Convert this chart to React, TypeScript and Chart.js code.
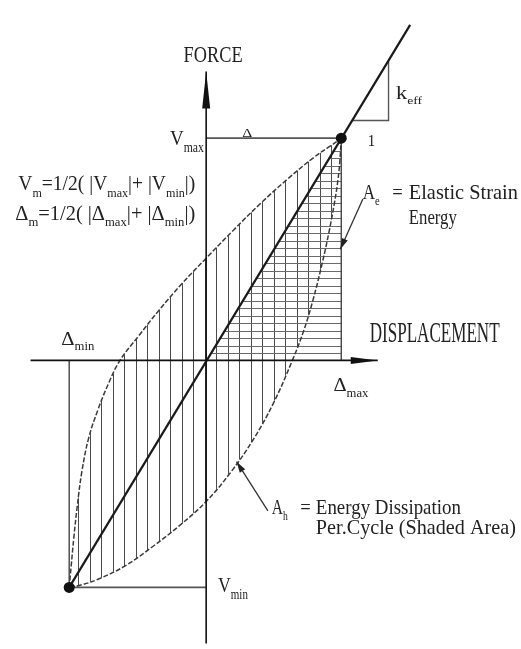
import React, { useEffect, useRef } from "react";
import { Chart, registerables } from "chart.js";

Chart.register(...registerables);

// Loading branch of the hysteresis loop (from the minimum point up to the maximum point)
const UP_X = [-1.014, -1.0, -0.98, -0.955, -0.92, -0.87, -0.8, -0.72, -0.638, -0.5, -0.35, -0.18, 0, 0.2, 0.4, 0.6, 0.8, 0.92, 1];
const UP_Y = [-1.022, -0.93, -0.8, -0.66, -0.5, -0.35, -0.22, -0.1, 0, 0.11, 0.225, 0.345, 0.46, 0.585, 0.705, 0.815, 0.915, 0.965, 1];

// Unloading branch (from the maximum point back down to the minimum point)
const LO_X = [1, 0.99, 0.975, 0.95, 0.91, 0.86, 0.79, 0.72, 0.638, 0.5, 0.35, 0.18, 0, -0.2, -0.4, -0.6, -0.8, -0.92, -1.014];
const LO_Y = [1, 0.9, 0.81, 0.71, 0.58, 0.44, 0.27, 0.13, 0, -0.19, -0.355, -0.505, -0.635, -0.745, -0.84, -0.925, -0.985, -1.01, -1.022];

// Peak points: [Δmax, Δmin] and [Vmax, Vmin]
const PEAK_D = [1, -1.014];
const PEAK_V = [1, -1.022];

// Effective-stiffness line end points
const DIAG_X = [-1.014, 1.51];
const DIAG_Y = [-1.022, 1.51];

// k_eff slope triangle
const KEFF_X = [1.08, 1.35, 1.35];
const KEFF_Y = [1.08, 1.08, 1.35];

// Axis extents
const AXIS_X = [-1.3, 1.27];
const AXIS_Y = [-1.28, 1.3];

const FONT = '"Liberation Serif", "DejaVu Serif", serif';
const INK = "#222";

type Seg = { t: string; sub?: boolean };
type Label = { x: number; y: number; segs: Seg[]; size: number; w?: number };

const LABELS: Label[] = [
  { x: -0.167, y: 1.341, segs: [{ t: "FORCE" }], size: 24, w: 59 },
  { x: -0.268, y: 0.969, segs: [{ t: "V" }, { t: "max", sub: true }], size: 22, w: 34 },
  {
    x: -1.391, y: 0.765, size: 21, w: 177,
    segs: [{ t: "V" }, { t: "m", sub: true }, { t: "=1/2( |V" }, { t: "max", sub: true }, { t: "|+ |V" }, { t: "min", sub: true }, { t: "|)" }],
  },
  {
    x: -1.413, y: 0.633, size: 21, w: 180,
    segs: [{ t: "Δ" }, { t: "m", sub: true }, { t: "=1/2( |Δ" }, { t: "max", sub: true }, { t: "|+ |Δ" }, { t: "min", sub: true }, { t: "|)" }],
  },
  { x: 1.159, y: 0.726, segs: [{ t: "A" }, { t: "e", sub: true }], size: 20, w: 17 },
  { x: 1.377, y: 0.726, segs: [{ t: "=" }], size: 20 },
  { x: 1.5, y: 0.726, segs: [{ t: "Elastic Strain" }], size: 21, w: 109 },
  { x: 1.5, y: 0.615, segs: [{ t: "Energy" }], size: 21, w: 48 },
  { x: 1.21, y: 0.084, segs: [{ t: "DISPLACEMENT" }], size: 29, w: 130 },
  { x: -1.072, y: 0.071, segs: [{ t: "Δ" }, { t: "min", sub: true }], size: 19, w: 33 },
  { x: 0.942, y: -0.137, segs: [{ t: "Δ" }, { t: "max", sub: true }], size: 19, w: 35 },
  { x: 0.486, y: -0.69, segs: [{ t: "A" }, { t: "h", sub: true }], size: 20, w: 16 },
  { x: 0.696, y: -0.69, segs: [{ t: "=" }], size: 20 },
  { x: 0.812, y: -0.69, segs: [{ t: "Energy Dissipation" }], size: 21, w: 145 },
  { x: 0.812, y: -0.783, segs: [{ t: "Per.Cycle (Shaded Area)" }], size: 21, w: 200 },
  { x: 0.087, y: -1.044, segs: [{ t: "V" }, { t: "min", sub: true }], size: 22, w: 30 },
  { x: 0.268, y: 1.004, segs: [{ t: "Δ" }], size: 13, w: 10 },
  { x: 1.196, y: 0.965, segs: [{ t: "1" }], size: 16 },
  { x: 1.406, y: 1.177, segs: [{ t: "k" }, { t: "eff", sub: true }], size: 18, w: 26 },
];

// Pointer arrows [fromX, fromY, toX, toY]
const POINTERS = [
  [1.16, 0.726, 0.993, 0.5],
  [0.457, -0.677, 0.225, -0.456],
];

const pts = (xs: number[], ys: number[]) => xs.map((x, i) => ({ x, y: ys[i] }));

function drawLabel(ctx: CanvasRenderingContext2D, px: number, py: number, lab: Label) {
  const subSize = lab.size * 0.62;
  let natural = 0;
  for (const s of lab.segs) {
    ctx.font = `${s.sub ? subSize : lab.size}px ${FONT}`;
    natural += ctx.measureText(s.t).width;
  }
  const sx = lab.w ? lab.w / natural : 0.93;
  ctx.save();
  ctx.translate(px, py);
  ctx.scale(sx, 1);
  ctx.fillStyle = INK;
  ctx.textBaseline = "alphabetic";
  let cx = 0;
  for (const s of lab.segs) {
    ctx.font = `${s.sub ? subSize : lab.size}px ${FONT}`;
    ctx.fillText(s.t, cx, s.sub ? lab.size * 0.3 : 0);
    cx += ctx.measureText(s.t).width;
  }
  ctx.restore();
}

function drawHead(ctx: CanvasRenderingContext2D, tx: number, ty: number, fx: number, fy: number, len: number, half: number) {
  const dx = tx - fx, dy = ty - fy;
  const d = Math.hypot(dx, dy) || 1;
  const ux = dx / d, uy = dy / d;
  const bx = tx - ux * len, by = ty - uy * len;
  ctx.beginPath();
  ctx.moveTo(tx, ty);
  ctx.lineTo(bx - uy * half, by + ux * half);
  ctx.lineTo(bx + uy * half, by - ux * half);
  ctx.closePath();
  ctx.fill();
}

const annotate = {
  id: "annotate",
  afterDatasetsDraw(chart: any) {
    const ctx: CanvasRenderingContext2D = chart.ctx;
    const xs = chart.scales.x, ys = chart.scales.y;
    const X = (v: number) => xs.getPixelForValue(v);
    const Y = (v: number) => ys.getPixelForValue(v);
    ctx.save();
    ctx.fillStyle = "#111";
    // axis arrowheads
    drawHead(ctx, X(0), Y(AXIS_Y[1]), X(0), Y(0), 37, 4);
    drawHead(ctx, X(AXIS_X[1]), Y(0), X(0), Y(0), 27, 3.5);
    // pointer arrows
    ctx.strokeStyle = "#333";
    ctx.lineWidth = 1.3;
    for (const [fx, fy, tx, ty] of POINTERS) {
      ctx.beginPath();
      ctx.moveTo(X(fx), Y(fy));
      ctx.lineTo(X(tx), Y(ty));
      ctx.stroke();
      ctx.fillStyle = "#222";
      drawHead(ctx, X(tx), Y(ty), X(fx), Y(fy), 11, 3.2);
    }
    for (const lab of LABELS) drawLabel(ctx, X(lab.x), Y(lab.y), lab);
    ctx.restore();
  },
};

function makePattern(ctx: CanvasRenderingContext2D, vertical: boolean) {
  const c = document.createElement("canvas");
  const g = c.getContext("2d")!;
  if (vertical) {
    c.width = 23; c.height = 2;
    g.fillStyle = "#4a4a4a";
    g.fillRect(9, 0, 1, 2);
    g.fillRect(21, 0, 1, 2);
  } else {
    c.width = 2; c.height = 15;
    g.fillStyle = "#6a6a6a";
    g.fillRect(0, 1, 2, 1);
    g.fillRect(0, 8, 2, 1);
  }
  return ctx.createPattern(c, "repeat");
}

export default function App() {
  const ref = useRef<HTMLCanvasElement | null>(null);
  useEffect(() => {
    const canvas = ref.current!;
    const ctx = canvas.getContext("2d")!;
    const vPat = makePattern(ctx, true);
    const hPat = makePattern(ctx, false);
    const line = (data: any[], color: string, width: number, extra: any = {}) => ({
      data, showLine: true, borderColor: color, borderWidth: width, pointRadius: 0, fill: false, tension: 0, ...extra,
    });
    const loopPoly = [...pts(UP_X, UP_Y), ...pts(LO_X, LO_Y).slice(1)];
    const aeTri = [{ x: 0, y: 0 }, { x: PEAK_D[0], y: PEAK_V[0] }, { x: PEAK_D[0], y: 0 }, { x: 0, y: 0 }];
    const chart = new Chart(canvas, {
      type: "scatter",
      data: {
        datasets: [
          { ...line(loopPoly, "rgba(0,0,0,0)", 0), fill: "shape", backgroundColor: vPat, order: 10 },
          { ...line(aeTri, "rgba(0,0,0,0)", 0), fill: "shape", backgroundColor: hPat, order: 9 },
          { ...line(pts(UP_X, UP_Y), "#3a3a3a", 1.5, { tension: 0.4, borderDash: [5, 2] }), order: 5 },
          { ...line(pts(LO_X, LO_Y), "#3a3a3a", 1.5, { tension: 0.4, borderDash: [5, 2] }), order: 5 },
          line([{ x: PEAK_D[0], y: 0 }, { x: PEAK_D[0], y: PEAK_V[0] }], "#444", 1.4, { order: 5 }),
          line([{ x: PEAK_D[1], y: 0 }, { x: PEAK_D[1], y: PEAK_V[1] }], "#444", 1.4, { order: 5 }),
          line([{ x: 0, y: PEAK_V[0] }, { x: PEAK_D[0], y: PEAK_V[0] }], "#555", 1.8, { order: 5 }),
          line([{ x: PEAK_D[1], y: PEAK_V[1] }, { x: 0, y: PEAK_V[1] }], "#555", 1.8, { order: 5 }),
          line(pts(KEFF_X, KEFF_Y), "#555", 1.4, { order: 5 }),
          line(pts(DIAG_X, DIAG_Y), "#1a1a1a", 2.2, { order: 3 }),
          line([{ x: AXIS_X[0], y: 0 }, { x: AXIS_X[1], y: 0 }], "#111", 1.6, { order: 2 }),
          line([{ x: 0, y: AXIS_Y[0] }, { x: 0, y: AXIS_Y[1] }], "#111", 1.6, { order: 2 }),
          {
            data: pts(PEAK_D, PEAK_V), showLine: false, pointRadius: 5.5, pointBackgroundColor: "#111",
            pointBorderColor: "#111", pointBorderWidth: 0, order: 1,
          },
        ],
      },
      options: {
        responsive: false,
        maintainAspectRatio: false,
        animation: false,
        layout: { padding: 0 },
        plugins: { legend: { display: false }, tooltip: { enabled: false } },
        scales: {
          x: { type: "linear", min: -205 / 138, max: 316 / 138, display: false },
          y: { type: "linear", min: -288 / 226, max: 361 / 226, display: false },
        },
      },
      plugins: [annotate],
    } as any);
    return () => chart.destroy();
  }, []);
  return (
    <div style={{ position: "fixed", left: 0, top: 0, width: 521, height: 649, background: "#fff" }}>
      <canvas ref={ref} width={521} height={649} style={{ display: "block" }} />
    </div>
  );
}
